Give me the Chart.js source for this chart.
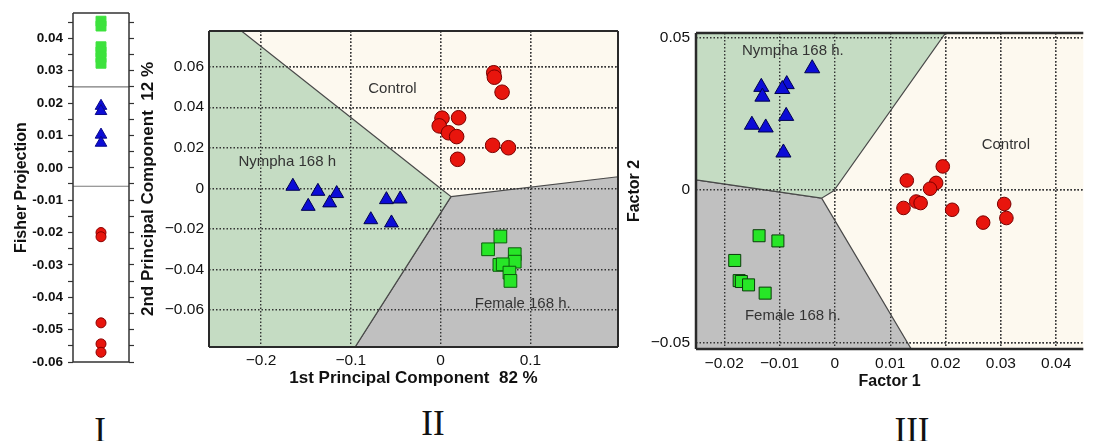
<!DOCTYPE html>
<html>
<head>
<meta charset="utf-8">
<script src="https://cdn.jsdelivr.net/npm/chart.js@4.4.1/dist/chart.umd.min.js"></script>
<style>
  html, body { margin: 0; padding: 0; background: #fff; }
  #wrap { position: relative; width: 1093px; height: 441px; overflow: hidden; }
  canvas { position: absolute; top: 0; }
  .num { position: absolute; font-family: 'Liberation Serif', 'Times New Roman', serif; font-size: 35px; line-height: 35px; color: #111; transform: translateX(-50%); }
</style>
</head>
<body>
<div id="wrap">
  <canvas id="fisher" width="150" height="380" style="left:0"></canvas>
  <canvas id="pca" width="490" height="400" style="left:140px"></canvas>
  <canvas id="factor" width="473" height="400" style="left:620px"></canvas>
  <div class="num" style="left:100px;top:413px">I</div>
  <div class="num" style="left:433px;top:406px">II</div>
  <div class="num" style="left:912px;top:413px">III</div>
</div>
<script>
Chart.defaults.font.family = "'Liberation Sans', Arial, sans-serif";
Chart.defaults.color = '#111';

// I - Fisher projection (one column of values)
const fisherFemale = [0.0453, 0.0438, 0.0374, 0.0358, 0.0341, 0.0323];
const fisherNympha = [0.0191, 0.0175, 0.0102, 0.0077];
const fisherControl = [-0.0200, -0.0213, -0.0479, -0.0544, -0.0570];
const fisherCuts = [0.025, -0.0057];
const fisherTicks = [0.04, 0.03, 0.02, 0.01, 0, -0.01, -0.02, -0.03, -0.04, -0.05, -0.06];
const fisherMinorTicks = [0.045, 0.035, 0.025, 0.015, 0.005, -0.005, -0.015, -0.025, -0.035, -0.045, -0.055];

// II - principal components
const pcaControl = [[0.0591, 0.0570], [0.0598, 0.0548], [0.0684, 0.0474], [0.0015, 0.0346], [-0.0016, 0.0308],
  [0.0088, 0.0274], [0.0178, 0.0255], [0.0200, 0.0348], [0.0189, 0.0143], [0.0579, 0.0212], [0.0755, 0.0200]];
const pcaNympha = [[-0.1646, 0.0010], [-0.1367, -0.0015], [-0.1158, -0.0026], [-0.1475, -0.0089], [-0.1236, -0.0072],
  [-0.0604, -0.0056], [-0.0451, -0.0053], [-0.0778, -0.0155], [-0.0548, -0.0171]];
const pcaFemale = [[0.0665, -0.0238], [0.0528, -0.0301], [0.0825, -0.0325], [0.0825, -0.0362], [0.0654, -0.0378],
  [0.0691, -0.0375], [0.0766, -0.0416], [0.0777, -0.0457]];
const pcaNymphaRegion = [[-0.2218, 0.0776], [0.0021, -0.0008], [0.0115, -0.0041], [-0.0953, -0.0783],
  [-0.258, -0.0783], [-0.258, 0.0776], [-0.2218, 0.0776]];
const pcaFemaleRegion = [[0.0115, -0.0041], [0.1975, 0.0057], [0.1975, -0.0783], [-0.0953, -0.0783], [0.0115, -0.0041]];
const pcaXTicks = [-0.2, -0.1, 0, 0.1];
const pcaYTicks = [0.06, 0.04, 0.02, 0, -0.02, -0.04, -0.06];
const pcaLabels = [['Control', [-0.0537, 0.0493]], ['Nympha 168 h', [-0.1709, 0.0131]], ['Female 168 h.', [0.0914, -0.0570]]];

// III - factors
const factorControl = [[0.0195, 0.0077], [0.0130, 0.0031], [0.0183, 0.0023], [0.0172, 0.0004], [0.0147, -0.0038],
  [0.0155, -0.0043], [0.0124, -0.0059], [0.0212, -0.0065], [0.0306, -0.0046], [0.0310, -0.0092], [0.0268, -0.0107]];
const factorNympha = [[-0.0041, 0.0398], [-0.0133, 0.0337], [-0.0131, 0.0305], [-0.0087, 0.0346], [-0.0095, 0.0330],
  [-0.0088, 0.0242], [-0.0150, 0.0213], [-0.0125, 0.0204], [-0.0093, 0.0122]];
const factorFemale = [[-0.0137, -0.0150], [-0.0103, -0.0167], [-0.0181, -0.0231], [-0.0173, -0.0297],
  [-0.0169, -0.0300], [-0.0156, -0.0311], [-0.0126, -0.0338]];
const factorNymphaRegion = [[-0.0251, 0.0514], [0.0200, 0.0514], [-0.0002, -0.0003], [-0.0024, -0.0027],
  [-0.0251, 0.0033], [-0.0251, 0.0514]];
const factorFemaleRegion = [[-0.0251, 0.0033], [-0.0024, -0.0027], [0.0138, -0.0521], [-0.0251, -0.0521], [-0.0251, 0.0033]];
const factorXTicks = [-0.02, -0.01, 0, 0.01, 0.02, 0.03, 0.04];
const factorYTicks = [0.05, 0, -0.05];
const factorLabels = [['Nympha 168 h.', [-0.0076, 0.0454]], ['Female 168 h.', [-0.0076, -0.0412]], ['Control', [0.0309, 0.0148]]];

const pts = arr => arr.map(([x, y]) => ({ x, y }));
const column = arr => arr.map(y => ({ x: 0.5, y }));
const useTicks = list => scale => { scale.ticks = list.map(v => ({ value: v })); };
const fmt = v => v === 0 ? '0' : (v < 0 ? '\u2212' : '') + String(+Math.abs(v).toFixed(3));
const fmtFisher = v => Math.abs(Math.round(v * 1000)) % 10 === 0 ? v.toFixed(2).replace('-0.00', '0.00') : '';

const region = (data, color) => ({
  type: 'line', region: true, order: 2, data: pts(data), fill: 'shape', tension: 0,
  backgroundColor: color, borderColor: '#4a4a4a', borderWidth: 1.2, pointRadius: 0
});
const marks = (data, style, r, fill, edge) => ({
  type: 'scatter', order: 0, data, pointStyle: style, pointRadius: r,
  backgroundColor: fill, borderColor: edge, borderWidth: 1
});

const deco = cfg => ({
  id: 'deco',
  beforeDraw(chart) {
    if (!cfg.background) return;
    const { ctx, chartArea: a } = chart;
    ctx.save();
    ctx.fillStyle = cfg.background;
    ctx.fillRect(a.left, a.top, a.width, a.height);
    ctx.restore();
  },
  beforeDatasetsDraw(chart) { chart.$regrid = false; },
  beforeDatasetDraw(chart, args) {
    // grid goes over the coloured regions but under the markers
    if (!cfg.regrid || chart.$regrid || chart.data.datasets[args.index].region) return;
    chart.$regrid = true;
    chart.scales.x.drawGrid(chart.chartArea);
    chart.scales.y.drawGrid(chart.chartArea);
  },
  afterDatasetsDraw(chart) {
    if (!cfg.labels) return;
    const { ctx, scales } = chart;
    ctx.save();
    ctx.font = "15px 'Liberation Sans', Arial, sans-serif";
    ctx.fillStyle = '#333';
    ctx.textAlign = 'center';
    ctx.textBaseline = 'middle';
    cfg.labels.forEach(([text, [x, y]]) => ctx.fillText(text, scales.x.getPixelForValue(x), scales.y.getPixelForValue(y)));
    ctx.restore();
  },
  afterDraw(chart) {
    const { ctx, chartArea: a } = chart;
    const f = cfg.frame;
    ctx.save();
    ctx.strokeStyle = f.color;
    ctx.lineWidth = f.width;
    ctx.beginPath();
    if (f.sides.includes('t')) { ctx.moveTo(a.left, a.top); ctx.lineTo(a.right, a.top); }
    if (f.sides.includes('r')) { ctx.moveTo(a.right, a.top); ctx.lineTo(a.right, a.bottom); }
    if (f.sides.includes('b')) { ctx.moveTo(a.left, a.bottom); ctx.lineTo(a.right, a.bottom); }
    if (f.sides.includes('l')) { ctx.moveTo(a.left, a.top); ctx.lineTo(a.left, a.bottom); }
    ctx.stroke();
    ctx.restore();
  }
});

const base = { responsive: false, animation: false, events: [], plugins: { legend: { display: false }, tooltip: { enabled: false } } };

// ---------- I ----------
const fisherAllTicks = fisherTicks.concat(fisherMinorTicks).sort((a, b) => b - a);
const fisherY = (pos, show) => ({
  type: 'linear', position: pos, min: -0.06, max: 0.0478,
  afterBuildTicks: useTicks(fisherAllTicks),
  afterFit: s => { s.width = pos === 'left' ? 73 : 21; },
  grid: { drawOnChartArea: false, tickLength: 5, tickColor: '#333', tickWidth: 1.2 },
  border: { display: false },
  ticks: { display: show, callback: fmtFisher, font: { size: 13.5, weight: 'bold' }, padding: 5, color: '#111', autoSkip: false },
  title: { display: show, text: 'Fisher Projection', font: { size: 16, weight: 'bold', lineHeight: 1 }, padding: { top: 13.5, bottom: 0 }, color: '#111' }
});
new Chart(document.getElementById('fisher'), {
  type: 'scatter',
  data: {
    datasets: [
      marks(column(fisherFemale), 'rect', 7, '#3de23d', '#3de23d'),
      marks(column(fisherNympha), 'triangle', 6.7, '#0c0cd6', '#0a0a8a'),
      marks(column(fisherControl), 'circle', 5, '#e8150d', '#8b0000'),
      ...fisherCuts.map(c => ({ type: 'line', region: true, order: 2, data: [{ x: 0, y: c }, { x: 1, y: c }],
        borderColor: '#7a7a7a', borderWidth: 1.2, pointRadius: 0 }))
    ]
  },
  options: {
    ...base,
    layout: { padding: { top: 13, bottom: 18, left: 0, right: 0 } },
    scales: {
      x: { type: 'linear', min: 0, max: 1, display: false },
      y: fisherY('left', true),
      y2: fisherY('right', false)
    }
  },
  plugins: [deco({ background: '#ffffff', frame: { color: '#333', width: 1.5, sides: 'trbl' } })]
});

// ---------- II ----------
const gridStyle = { color: '#333333', lineWidth: 1.4, drawTicks: false };
const dotted = { display: false, dash: [1.5, 2] };
new Chart(document.getElementById('pca'), {
  type: 'scatter',
  data: {
    datasets: [
      marks(pts(pcaControl), 'circle', 7.3, '#e8150d', '#7a0000'),
      marks(pts(pcaNympha), 'triangle', 8, '#0c0cd6', '#000050'),
      marks(pts(pcaFemale), 'rect', 9, '#27e627', '#0b5c0b'),
      region(pcaNymphaRegion, '#c5dcc3'),
      region(pcaFemaleRegion, '#c0c0c0')
    ]
  },
  options: {
    ...base,
    layout: { padding: { top: 31, right: 12, left: 0, bottom: 0 } },
    scales: {
      x: {
        type: 'linear', min: -0.258, max: 0.1975,
        afterBuildTicks: useTicks(pcaXTicks), afterFit: s => { s.height = 53; },
        grid: gridStyle, border: dotted,
        ticks: { callback: fmt, font: { size: 15.5 }, padding: 4, color: '#111', maxRotation: 0, autoSkip: false },
        title: { display: true, text: '1st Principal Component  82 %', font: { size: 17, weight: 'bold', lineHeight: 1 }, padding: { top: 0, bottom: 13.5 }, color: '#111' }
      },
      y: {
        type: 'linear', min: -0.0783, max: 0.0776,
        afterBuildTicks: useTicks(pcaYTicks), afterFit: s => { s.width = 69; },
        grid: gridStyle, border: dotted,
        ticks: { callback: fmt, font: { size: 15.5 }, padding: 5, color: '#111', autoSkip: false },
        title: { display: true, text: '2nd Principal Component  12 %', font: { size: 17, weight: 'bold', lineHeight: 1 }, padding: { top: 0, bottom: 0 }, color: '#111' }
      }
    }
  },
  plugins: [deco({ background: '#fdf9ef', regrid: true, labels: pcaLabels, frame: { color: '#2a2a2a', width: 2, sides: 'trbl' } })]
});

// ---------- III ----------
new Chart(document.getElementById('factor'), {
  type: 'scatter',
  data: {
    datasets: [
      marks(pts(factorControl), 'circle', 6.8, '#e8150d', '#7a0000'),
      marks(pts(factorNympha), 'triangle', 8.7, '#0c0cd6', '#000050'),
      marks(pts(factorFemale), 'rect', 8.5, '#27e627', '#0b3c0b'),
      region(factorNymphaRegion, '#c5dcc3'),
      region(factorFemaleRegion, '#c0c0c0')
    ]
  },
  options: {
    ...base,
    layout: { padding: { top: 33, right: 0, left: 0, bottom: 0 } },
    scales: {
      x: {
        type: 'linear', min: -0.0251, max: 0.0449,
        afterBuildTicks: useTicks(factorXTicks), afterFit: s => { s.height = 51; },
        grid: gridStyle, border: dotted,
        ticks: { callback: fmt, font: { size: 15.5 }, padding: 5, color: '#111', maxRotation: 0, autoSkip: false },
        title: { display: true, text: 'Factor 1', font: { size: 16, weight: 'bold', lineHeight: 1 }, padding: { top: 0, bottom: 10.3 }, color: '#111' }
      },
      y: {
        type: 'linear', min: -0.0521, max: 0.0514,
        afterBuildTicks: useTicks(factorYTicks), afterFit: s => { s.width = 76; },
        grid: gridStyle, border: dotted,
        ticks: { callback: fmt, font: { size: 15.5 }, padding: 6, color: '#111', autoSkip: false },
        title: { display: true, text: 'Factor 2', font: { size: 16, weight: 'bold', lineHeight: 1 }, padding: { top: 7, bottom: 0 }, color: '#111' }
      }
    }
  },
  plugins: [deco({ background: '#fdf9ef', regrid: true, labels: factorLabels, frame: { color: '#2a2a2a', width: 2.5, sides: 'tlb' } })]
});
</script>
</body>
</html>
